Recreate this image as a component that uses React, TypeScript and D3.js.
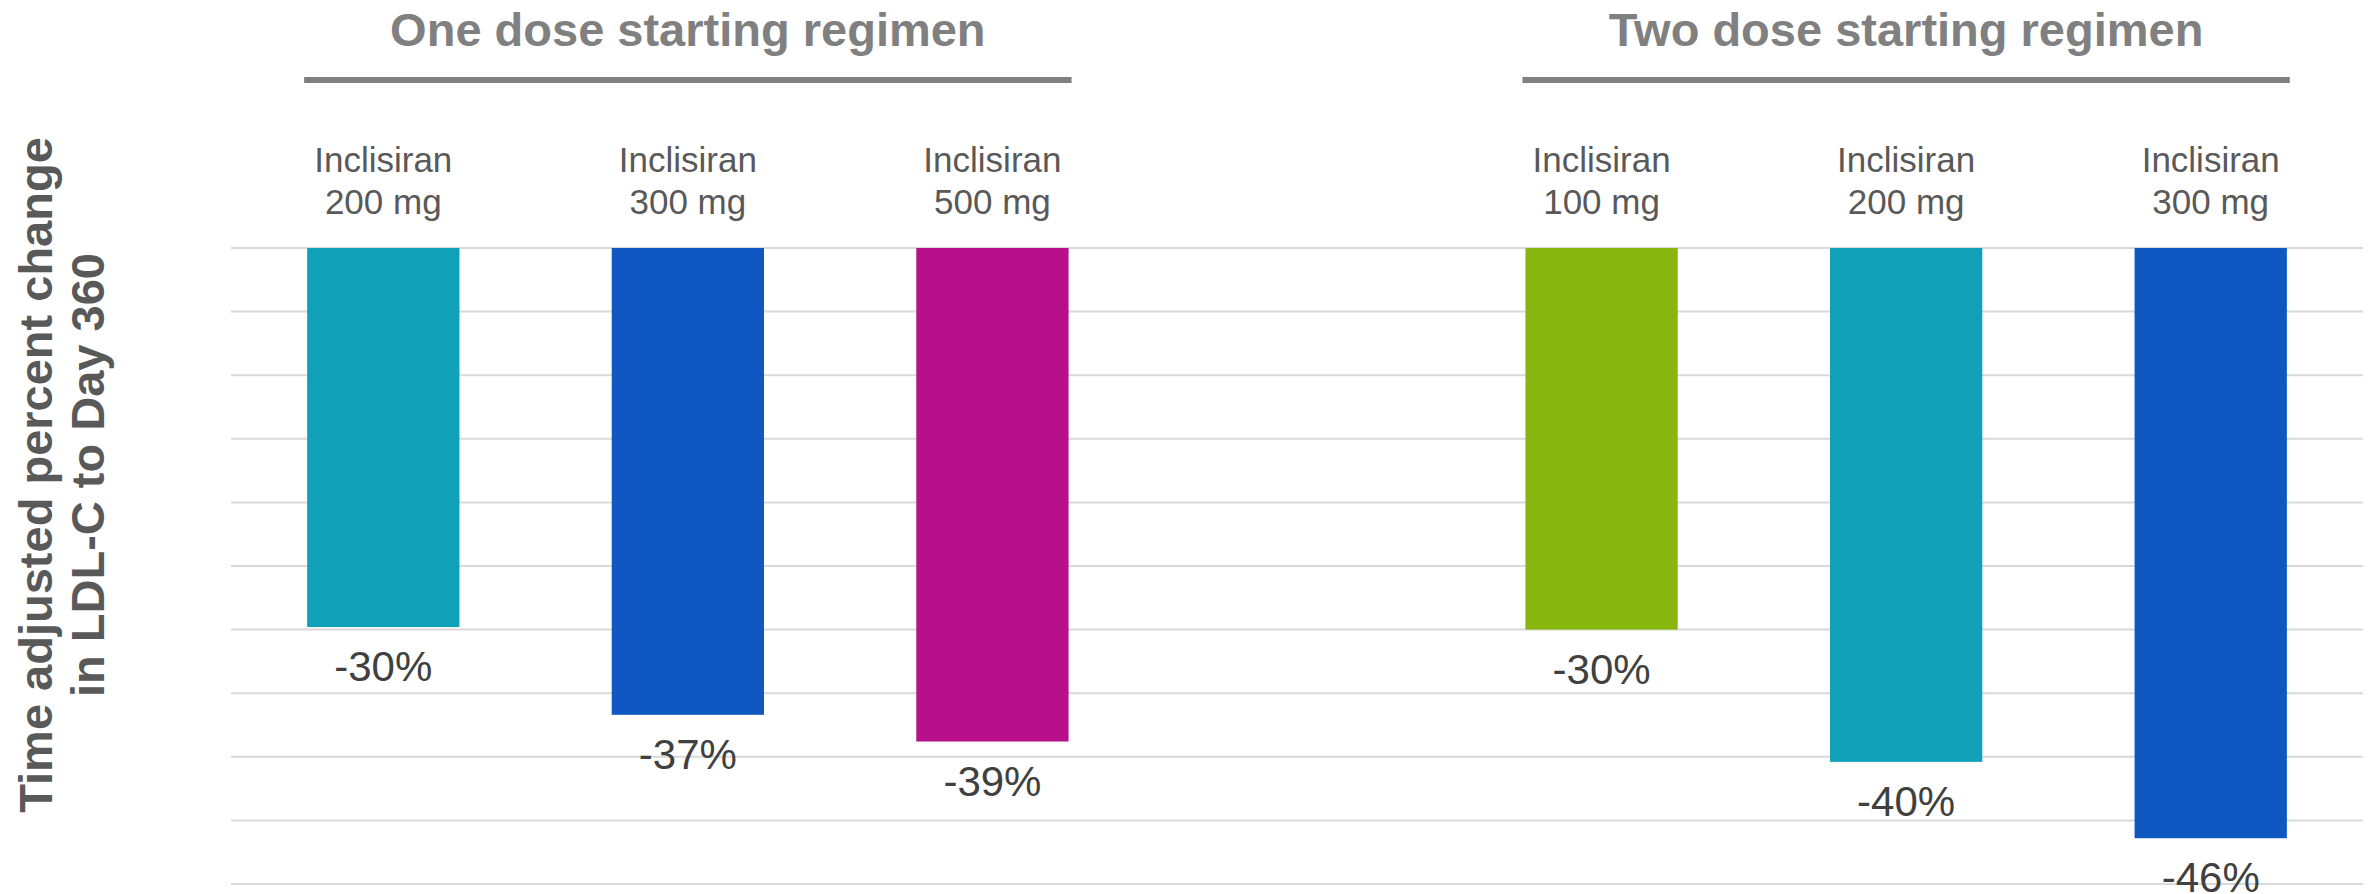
import * as d3 from 'd3';

// slot keys for the band scale, 'gap' keeps the empty slot between the two regimens
const slots = ['one-200', 'one-300', 'one-500', 'gap', 'two-100', 'two-200', 'two-300'];
const barSlots = ['one-200', 'one-300', 'one-500', 'two-100', 'two-200', 'two-300'];
const drugNames = ['Inclisiran', 'Inclisiran', 'Inclisiran', 'Inclisiran', 'Inclisiran', 'Inclisiran'];
const doses = ['200 mg', '300 mg', '500 mg', '100 mg', '200 mg', '300 mg'];
const values = [-29.8, -36.7, -38.8, -30.0, -40.4, -46.4];
const barColors = ['#10A1B8', '#0F58C1', '#B8108C', '#88B60E', '#10A1B8', '#0F58C1'];

const groupTitles = ['One dose starting regimen', 'Two dose starting regimen'];
const groupSlots = [
  ['one-200', 'one-300', 'one-500'],
  ['two-100', 'two-200', 'two-300'],
];

const yTicks = [0, -5, -10, -15, -20, -25, -30, -35, -40, -45, -50];
const yTitle = ['Time adjusted percent change', 'in LDL-C to Day 360'];

const W = 2374;
const H = 894;
const FONT = 'Liberation Sans, Arial, sans-serif';

const App = () => {
  const x = d3.scaleBand<string>()
    .domain(slots)
    .range([231, 2363])
    .paddingInner(0.5)
    .paddingOuter(0.25);

  const y = d3.scaleLinear()
    .domain([0, -50])
    .range([248, 884]);

  const bw = x.bandwidth();

  return (
    <div style={{ position: 'absolute', left: 0, top: 0 }}>
      <svg width={W} height={H} style={{ display: 'block', background: '#fff' }}>
        {/* gridlines */}
        {yTicks.map(t => (
          <line key={t} x1={231} x2={2363} y1={y(t)} y2={y(t)} stroke="#D9D9D9" strokeWidth={2} />
        ))}

        {/* y axis title */}
        <text
          transform={`translate(52, 475) rotate(-90)`}
          textAnchor="middle"
          fontFamily={FONT}
          fontWeight="bold"
          fontSize={47}
          fill="#595959"
        >
          <tspan x={0} y={0}>{yTitle[0]}</tspan>
          <tspan x={0} y={51.6}>{yTitle[1]}</tspan>
        </text>

        {/* group titles with underline */}
        {groupTitles.map((g, i) => {
          const s = groupSlots[i];
          const x0 = x(s[0])! - 3;
          const x1 = x(s[s.length - 1])! + bw + 3;
          const mid = x(s[1])! + bw / 2;
          return (
            <g key={g}>
              <text x={mid} y={46} textAnchor="middle" fontFamily={FONT} fontWeight="bold" fontSize={47} fill="#808080">
                {g}
              </text>
              <line x1={x0} x2={x1} y1={80} y2={80} stroke="#808080" strokeWidth={6} />
            </g>
          );
        })}

        {/* bars, category and value labels */}
        {barSlots.map((s, i) => {
          const bx = x(s)!;
          const cx = bx + bw / 2;
          const top = y(0);
          const bottom = y(values[i]);
          return (
            <g key={s}>
              <text x={cx} y={172} textAnchor="middle" fontFamily={FONT} fontSize={35} fill="#595959">
                {drugNames[i]}
              </text>
              <text x={cx} y={214} textAnchor="middle" fontFamily={FONT} fontSize={35} fill="#595959">
                {doses[i]}
              </text>
              <rect x={bx} y={top} width={bw} height={bottom - top} fill={barColors[i]} />
              <text x={cx} y={bottom + 54} textAnchor="middle" fontFamily={FONT} fontSize={42} fill="#404040">
                {`${Math.round(values[i])}%`}
              </text>
            </g>
          );
        })}
      </svg>
    </div>
  );
};

export default App;
